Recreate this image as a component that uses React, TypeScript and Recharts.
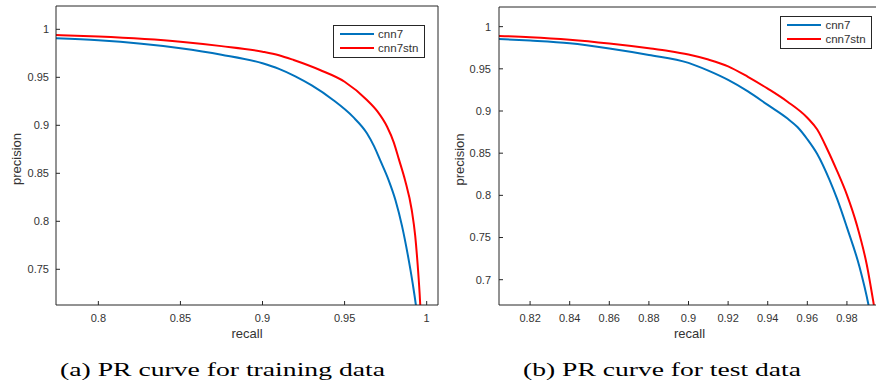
import React from 'react';
import { LineChart, Line, XAxis, YAxis, Legend } from 'recharts';

// ---------- data ----------
const seriesNames = ['cnn7', 'cnn7stn'];
const seriesColors = ['#0072BD', '#FF0000'];

// (a) training data
const trainRecallCnn7 = [0.7742, 0.8, 0.85, 0.875, 0.9, 0.91, 0.92, 0.93, 0.943, 0.955, 0.9636, 0.968, 0.9716, 0.9768, 0.981, 0.985, 0.9885, 0.9915, 0.994, 0.9955];
const trainPrecisionCnn7 = [0.9906, 0.9885, 0.9802, 0.9735, 0.9646, 0.9588, 0.951, 0.9415, 0.9264, 0.909, 0.8917, 0.878, 0.8639, 0.843, 0.822, 0.795, 0.765, 0.735, 0.705, 0.68];
const trainRecallCnn7stn = [0.7742, 0.8, 0.85, 0.875, 0.9, 0.91, 0.919, 0.935, 0.95, 0.9636, 0.97, 0.9759, 0.98, 0.983, 0.9868, 0.9909, 0.993, 0.9945, 0.9957, 0.9965];
const trainPrecisionCnn7stn = [0.9941, 0.9925, 0.9871, 0.9825, 0.9767, 0.973, 0.968, 0.9576, 0.9454, 0.9264, 0.9145, 0.8985, 0.882, 0.865, 0.843, 0.8118, 0.785, 0.755, 0.725, 0.7];

// (b) test data
const testRecallCnn7 = [0.8042, 0.82, 0.84, 0.86, 0.88, 0.9, 0.91, 0.92, 0.93, 0.94, 0.95, 0.955, 0.96, 0.965, 0.9712, 0.975, 0.98, 0.9863, 0.9909, 0.9925];
const testPrecisionCnn7 = [0.9854, 0.9835, 0.9803, 0.9742, 0.9665, 0.957, 0.9478, 0.9368, 0.9232, 0.9072, 0.891, 0.881, 0.8665, 0.849, 0.8183, 0.796, 0.762, 0.7156, 0.67, 0.65];
const testRecallCnn7stn = [0.8042, 0.82, 0.84, 0.86, 0.88, 0.89, 0.9, 0.91, 0.92, 0.93, 0.94, 0.95, 0.96, 0.965, 0.97, 0.975, 0.98, 0.985, 0.99, 0.9936, 0.995];
const testPrecisionCnn7stn = [0.989, 0.9875, 0.9845, 0.98, 0.9744, 0.9712, 0.967, 0.961, 0.953, 0.9405, 0.9265, 0.911, 0.892, 0.878, 0.855, 0.829, 0.8006, 0.765, 0.718, 0.67, 0.65];

const trainXTicks = [0.8, 0.85, 0.9, 0.95, 1];
const trainYTicks = [0.75, 0.8, 0.85, 0.9, 0.95, 1];
const testXTicks = [0.82, 0.84, 0.86, 0.88, 0.9, 0.92, 0.94, 0.96, 0.98];
const testYTicks = [0.7, 0.75, 0.8, 0.85, 0.9, 0.95, 1];

const trainXDomain: [number, number] = [0.7742, 1.0069];
const trainYDomain: [number, number] = [0.7128, 1.0243];
const testXDomain: [number, number] = [0.8043, 0.9967];
const testYDomain: [number, number] = [0.67, 1.0233];

const xLabel = 'recall';
const yLabel = 'precision';
const captions = ['(a) PR curve for training data', '(b) PR curve for test data'];

const toPoints = (xs: number[], ys: number[]) => xs.map((x, i) => ({ x, y: ys[i] }));

const trainSeries = [
  toPoints(trainRecallCnn7, trainPrecisionCnn7),
  toPoints(trainRecallCnn7stn, trainPrecisionCnn7stn),
];
const testSeries = [
  toPoints(testRecallCnn7, testPrecisionCnn7),
  toPoints(testRecallCnn7stn, testPrecisionCnn7stn),
];

// ---------- styling ----------
const SANS = '"Liberation Sans", Arial, Helvetica, sans-serif';
const SERIF = '"Liberation Serif", "DejaVu Serif", serif';
const AX = '#262626';
const TXT = '#333333';

const LegendBox = (props: any) => {
  const payload = (props.payload || []) as any[];
  return (
    <div
      style={{
        position: 'relative',
        width: 92,
        height: 33,
        boxSizing: 'border-box',
        border: `1px solid ${AX}`,
        background: '#fff',
      }}
    >
      {payload.map((p: any, i: number) => (
        <div
          key={i}
          style={{
            position: 'absolute',
            left: 5.6,
            top: 0.6 + i * 14.4,
            height: 14,
            display: 'flex',
            alignItems: 'center',
            whiteSpace: 'nowrap',
          }}
        >
          <div style={{ width: 34, height: 2, background: p.color }} />
          <span
            style={{
              marginLeft: 4.5,
              fontSize: 11.5,
              lineHeight: '14px',
              color: TXT,
              fontFamily: SANS,
            }}
          >
            {p.value}
          </span>
        </div>
      ))}
    </div>
  );
};

const makeYLabel = (cx: number) => (props: any) => {
  const vb = props.viewBox || {};
  const x = (vb.x ?? 0) + cx;
  const y = (vb.y ?? 0) + (vb.height ?? 0) / 2 + 3.5;
  return (
    <text
      x={x}
      y={y}
      transform={`rotate(-90, ${x}, ${y})`}
      textAnchor="middle"
      dominantBaseline="central"
      fill={TXT}
      fontSize={13}
      fontFamily={SANS}
    >
      {yLabel}
    </text>
  );
};

type PRProps = {
  width: number;
  marginRight: number;
  marginTop: number;
  yAxisWidth: number;
  yTickMargin: number;
  yLabelX: number;
  xDomain: [number, number];
  yDomain: [number, number];
  xTicks: number[];
  yTicks: number[];
  series: { x: number; y: number }[][];
  legendLeft: number;
  legendTop: number;
};

// the two series are bound to the two (identical) axis pairs so that the
// mirrored top / right axes that close the box are drawn as well
const axisPairs = [
  { x: 'b', y: 'l' },
  { x: 't', y: 'r' },
];

const PRChart = (p: PRProps) => (
  <LineChart
    width={p.width}
    height={385}
    margin={{ top: p.marginTop - 1, right: p.marginRight - 1, left: 0, bottom: 40 }}
  >
    <XAxis
      xAxisId="b"
      type="number"
      dataKey="x"
      domain={p.xDomain}
      ticks={p.xTicks}
      interval={0}
      allowDataOverflow
      height={40}
      tickSize={-4}
      tickMargin={13}
      axisLine={{ stroke: AX }}
      tickLine={{ stroke: AX }}
      tick={{ fill: TXT, fontSize: 11, fontFamily: SANS }}
      label={{ value: xLabel, position: 'insideBottom', offset: 7, fill: TXT, fontSize: 13, fontFamily: SANS }}
    />
    <XAxis
      xAxisId="t"
      orientation="top"
      type="number"
      dataKey="x"
      domain={p.xDomain}
      ticks={p.xTicks}
      interval={0}
      allowDataOverflow
      height={1}
      tickSize={-4}
      tick={false}
      axisLine={{ stroke: AX }}
      tickLine={{ stroke: AX }}
    />
    <YAxis
      yAxisId="l"
      type="number"
      domain={p.yDomain}
      ticks={p.yTicks}
      interval={0}
      allowDataOverflow
      width={p.yAxisWidth}
      tickSize={-4}
      tickMargin={p.yTickMargin}
      axisLine={{ stroke: AX }}
      tickLine={{ stroke: AX }}
      tick={{ fill: TXT, fontSize: 11, fontFamily: SANS }}
      label={makeYLabel(p.yLabelX)}
    />
    <YAxis
      yAxisId="r"
      orientation="right"
      type="number"
      domain={p.yDomain}
      ticks={p.yTicks}
      interval={0}
      allowDataOverflow
      width={1}
      tickSize={-4}
      tick={false}
      axisLine={{ stroke: AX }}
      tickLine={{ stroke: AX }}
    />
    <Legend
      layout="vertical"
      align="center"
      verticalAlign="middle"
      content={LegendBox}
      wrapperStyle={{ left: p.legendLeft, top: p.legendTop, width: 92, height: 33 }}
    />
    {p.series.map((d, i) => (
      <Line
        key={seriesNames[i]}
        name={seriesNames[i]}
        data={d}
        dataKey="y"
        xAxisId={axisPairs[i].x}
        yAxisId={axisPairs[i].y}
        type="monotone"
        stroke={seriesColors[i]}
        strokeWidth={2}
        dot={false}
        activeDot={false}
        isAnimationActive={false}
      />
    ))}
  </LineChart>
);

export default function App() {
  return (
    <div
      style={{
        position: 'absolute',
        left: 0,
        top: 0,
        width: 876,
        height: 385,
        overflow: 'hidden',
        background: '#fff',
      }}
    >
      <div style={{ position: 'absolute', left: 0, top: 0 }}>
        <PRChart
          width={440}
          marginRight={2}
          marginTop={6}
          yAxisWidth={56}
          yTickMargin={11}
          yLabelX={16.5}
          xDomain={trainXDomain}
          yDomain={trainYDomain}
          xTicks={trainXTicks}
          yTicks={trainYTicks}
          series={trainSeries}
          legendLeft={333}
          legendTop={25}
        />
      </div>
      <div style={{ position: 'absolute', left: 436, top: 0 }}>
        <PRChart
          width={445}
          marginRight={1}
          marginTop={7}
          yAxisWidth={63}
          yTickMargin={12}
          yLabelX={23.3}
          xDomain={testXDomain}
          yDomain={testYDomain}
          xTicks={testXTicks}
          yTicks={testYTicks}
          series={testSeries}
          legendLeft={344.3}
          legendTop={16}
        />
      </div>
      <svg
        width={876}
        height={385}
        style={{ position: 'absolute', left: 0, top: 0, pointerEvents: 'none' }}
      >
        <text
          x={60}
          y={375.5}
          fontSize={19}
          fontFamily={SERIF}
          fill="#000"
          textLength={325}
          lengthAdjust="spacingAndGlyphs"
        >
          {captions[0]}
        </text>
        <text
          x={523}
          y={375.5}
          fontSize={19}
          fontFamily={SERIF}
          fill="#000"
          textLength={278}
          lengthAdjust="spacingAndGlyphs"
        >
          {captions[1]}
        </text>
      </svg>
    </div>
  );
}
